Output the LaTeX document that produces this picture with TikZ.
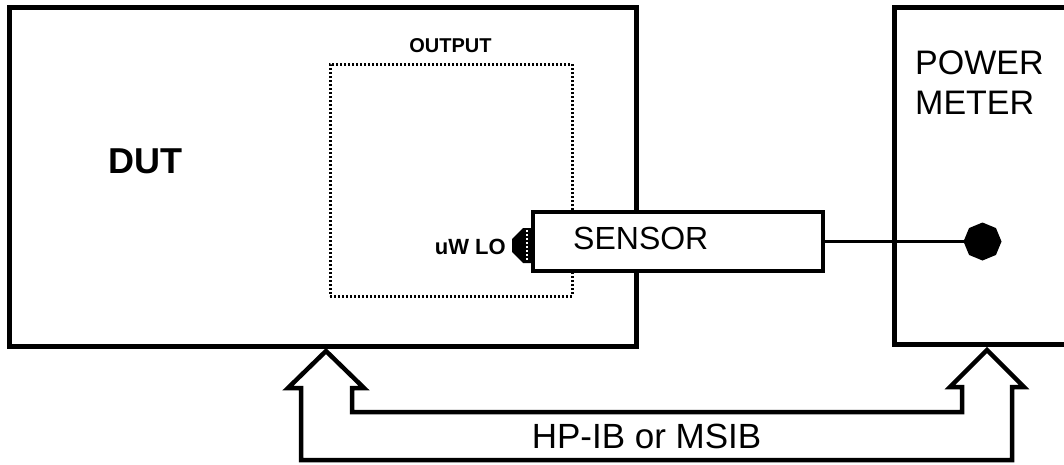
\documentclass[tikz,border=0pt]{standalone}
\usepackage{fontspec}
\setmainfont{Liberation Sans}
\usetikzlibrary{shapes.geometric}
\begin{document}
\begin{tikzpicture}[x=1pt,y=-1pt,
  box/.style={draw, line width=5pt, inner sep=0pt, outer sep=0pt, anchor=north west},
  lbl/.style={inner sep=0pt, anchor=base west},
  bus/.style={draw, line width=4.5pt, line join=miter},
]
\useasboundingbox (0,0) rectangle (1064,464);
\begin{scope}
\clip (0,0) rectangle (1064,464);
\node[box, minimum width=627pt, minimum height=339pt] (dut) at (9.5,7) {};
\node[box, minimum width=200pt, minimum height=337pt] (pm) at (894.5,7) {};
\end{scope}
% output area
\node[draw, line width=3pt, dash pattern=on 2pt off 2pt, inner sep=0pt, outer sep=0pt, anchor=north west,
      minimum width=242pt, minimum height=232pt] (out) at (330,64) {};
\node[inner sep=0pt, anchor=base, font=\fontsize{20}{22}\selectfont\bfseries] (outlbl) at (450.5,52) {OUTPUT};
% labels
\node[lbl, font=\fontsize{36}{40}\selectfont\bfseries] (dutlbl) at (108,173) {DUT};
\node[lbl, font=\fontsize{34}{40}\selectfont] (pmlbl1) at (915,74) {POWER};
\node[lbl, font=\fontsize{34}{40}\selectfont] (pmlbl2) at (915,114) {METER};
\node[inner sep=0pt, anchor=base east, font=\fontsize{22}{24}\selectfont\bfseries] (lolbl) at (506,254) {uW LO};
% sensor
\node[draw, fill=white, line width=4pt, inner sep=0pt, outer sep=0pt, anchor=north west,
      minimum width=290pt, minimum height=59pt] (sensor) at (533,212) {};
\node[lbl, font=\fontsize{32}{36}\selectfont] (senslbl) at (573,249) {SENSOR};
% connector
\fill (sensor.west |- 0,228) -- (523,228) -- (512,239) -- (512,252) -- (523,263) -- (sensor.west |- 0,263) -- cycle;
\draw[white, line width=1.5pt, dash pattern=on 1.5pt off 2.5pt] (527,230) -- (527,261);
% power meter jack
\node[regular polygon, regular polygon sides=8, fill, minimum size=38pt, inner sep=0pt, outer sep=0pt,
      shape border rotate=22.5] (jack) at (982.5,241.5) {};
\draw[line width=3.5pt] (sensor.east) -- (jack);
% bus
\coordinate (tipA) at (326,351);
\coordinate (tipB) at (987,350);
\draw[bus] (301,460) -- (301,388) -- (288,388) -- (tipA) -- (364,388) -- (352,388) -- (352,412)
  -- (962,412) -- (962,387) -- (950,387) -- (tipB) -- (1024,387) -- (1012,387) -- (1012,460) -- cycle;
\node[inner sep=0pt, anchor=base, font=\fontsize{35}{40}\selectfont] (buslbl) at (646.5,448) {HP-IB or MSIB};
\end{tikzpicture}
\end{document}
